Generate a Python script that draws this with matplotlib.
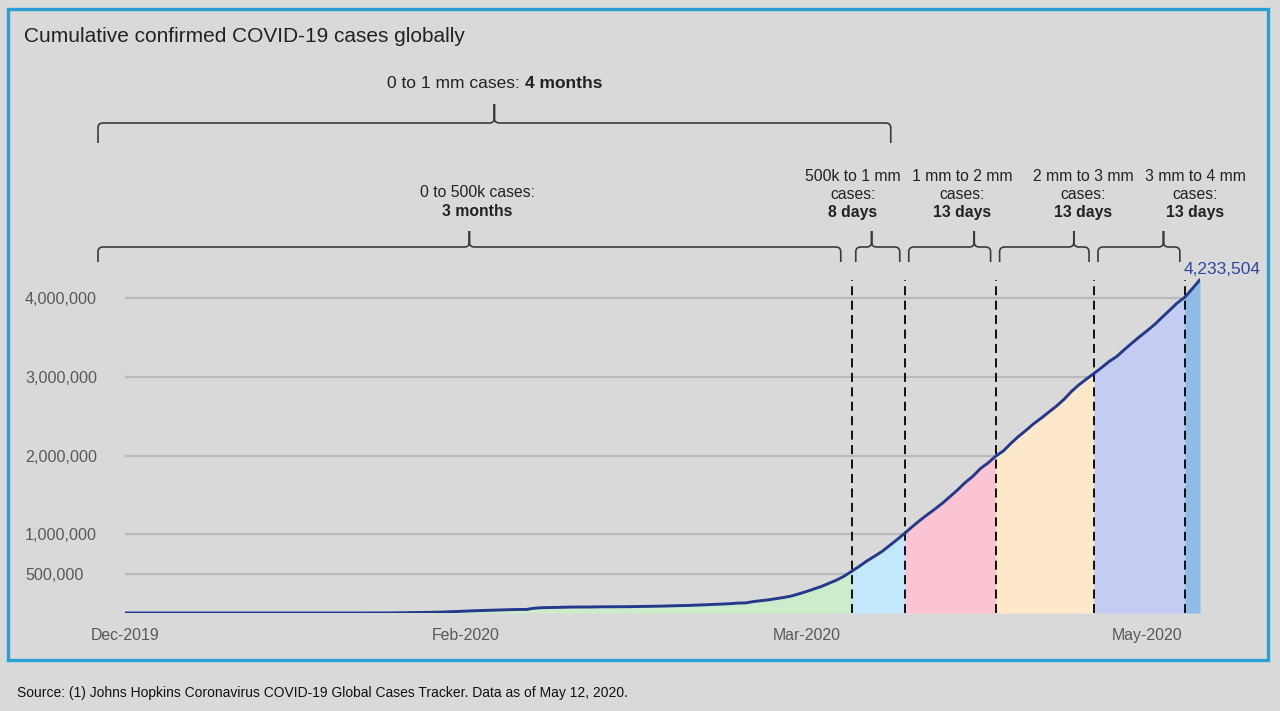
import numpy as np
import pandas as pd
import matplotlib
matplotlib.use('Agg')
import matplotlib.pyplot as plt
import matplotlib.dates as mdates
from matplotlib.path import Path
from matplotlib.patches import PathPatch, Rectangle
from matplotlib.transforms import IdentityTransform
from matplotlib.ticker import FuncFormatter

plt.rcParams['font.family'] = ['Liberation Sans', 'DejaVu Sans']

# cumulative confirmed cases, thousands, one value per day from Jan 21 to May 11
axis_start = '2019-12-21'
daily_start = '2020-01-21'
cases_jan = [0, 0.6, 0.7, 0.9, 1.4, 2.1, 2.9, 5.6, 6.2, 8.2, 9.9]
cases_feb = [12, 17, 20, 24, 28, 31, 34, 37, 40, 43, 45, 45, 60, 67, 69, 71, 73, 75,
             76, 76, 77, 79, 79, 80, 80, 81, 83, 84, 86]
cases_mar = [88, 90, 93, 95, 98, 102, 106, 110, 114, 119, 126, 128, 145, 156, 167, 182,
             197, 215, 243, 272, 305, 337, 378, 418, 468, 530, 593, 661, 720, 782, 857]
cases_apr = [933, 1013, 1096, 1176, 1250, 1321, 1396, 1480, 1565, 1658, 1736, 1835, 1905,
             1990, 2056, 2152, 2240, 2318, 2401, 2472, 2549, 2624, 2709, 2811, 2897, 2971,
             3042, 3116, 3194, 3257]
cases_may = [3344, 3427, 3507, 3583, 3663, 3755, 3846, 3938, 4010, 4120, 4233.504]

# dates where 500k, 1mm, 2mm, 3mm, 4mm were reached
milestones = ['2020-03-26', '2020-04-02', '2020-04-14', '2020-04-27', '2020-05-09']
seg_colors = ['#cdeccb', '#c4e8fb', '#fbc4d2', '#fde9c9', '#c5ccf3', '#8fbbe7']

y_ticks = [500000, 1000000, 2000000, 3000000, 4000000]
tick_step_days = 45

period_top = ('0 to 1 mm cases:', '4 months')
period_labels = [(['0 to 500k cases:'], '3 months'),
                 (['500k to 1 mm', 'cases:'], '8 days'),
                 (['1 mm to 2 mm', 'cases:'], '13 days'),
                 (['2 mm to 3 mm', 'cases:'], '13 days'),
                 (['3 mm to 4 mm', 'cases:'], '13 days')]

title = 'Cumulative confirmed COVID-19 cases globally'
source = 'Source: (1) Johns Hopkins Coronavirus COVID-19 Global Cases Tracker. Data as of May 12, 2020.'

# ---------------------------------------------------------------
cases_k = cases_jan + cases_feb + cases_mar + cases_apr + cases_may
dates = pd.DatetimeIndex([axis_start]).append(pd.date_range(daily_start, periods=len(cases_k)))
cases = np.array([0] + cases_k, dtype=float) * 1000
ms = pd.to_datetime(milestones)

bg = '#d9d9d9'
ink = '#222222'
W, H = 1280, 711
fig = plt.figure(figsize=(W / 100, H / 100), dpi=100, facecolor=bg)

ymax = 4.6e6
y0_px, top_px = 613, 613 - 4.6 * 78.75
ax = fig.add_axes([125 / W, (H - y0_px) / H, (1200 - 125) / W, (y0_px - top_px) / H])
ax.set_facecolor(bg)
ax.set_xlim(dates[0], dates[-1])
ax.set_ylim(0, ymax)

bounds = [dates[0]] + list(ms) + [dates[-1]]
for i in range(len(bounds) - 1):
    m = (dates >= bounds[i]) & (dates <= bounds[i + 1])
    ax.fill_between(dates[m], 0, cases[m], color=seg_colors[i], lw=0, zorder=1)

ax.vlines(ms, 0, cases.max(), colors='black', linestyles=(0, (5, 3)), lw=1.3, zorder=2)
ax.plot(dates, cases, color='#24398c', lw=2.1, zorder=3, solid_capstyle='round')

ax.annotate(f'{int(round(cases[-1])):,}', (dates[-1], cases[-1]), xytext=(-16, 10),
            textcoords='offset pixels', ha='left', va='center', fontsize=12.5, color='#2e48a0')

for s in ax.spines.values():
    s.set_visible(False)
ax.set_yticks(y_ticks)
ax.yaxis.set_major_formatter(FuncFormatter(lambda v, p: f'{int(v):,}'))
ax.tick_params(axis='y', length=0, pad=72, labelsize=11.6, labelcolor='#595959')
for t in ax.get_yticklabels():
    t.set_ha('left')
xt = pd.date_range(dates[0], dates[-1], freq=f'{tick_step_days}D')
ax.set_xticks(xt)
ax.xaxis.set_major_formatter(mdates.DateFormatter('%b-%Y'))
ax.tick_params(axis='x', length=0, pad=11, labelsize=11.4, labelcolor='#595959')
ax.grid(axis='y', color='#bababa', lw=1.6)
ax.set_axisbelow(True)


def xpx(d):
    return ax.transData.transform((mdates.date2num(d), 0))[0]


def brace(x0, x1, xt, y, drop, rise, r=5):
    def P(x, yy):
        return (x, H - yy)
    verts = [P(x0, y + drop), P(x0, y + r), P(x0, y), P(x0 + r, y), P(xt - r, y),
             P(xt, y), P(xt, y - r), P(xt, y - rise),
             P(x1, y + drop), P(x1, y + r), P(x1, y), P(x1 - r, y), P(xt + r, y),
             P(xt, y), P(xt, y - r), P(xt, y - rise)]
    c = [Path.MOVETO, Path.LINETO, Path.CURVE3, Path.CURVE3, Path.LINETO,
         Path.CURVE3, Path.CURVE3, Path.LINETO]
    fig.add_artist(PathPatch(Path(verts, c + c), transform=IdentityTransform(),
                             fill=False, ec='#3a3a3a', lw=1.2))


def ftext(x, y, s, **kw):
    fig.text(x / W, 1 - y / H, s, **kw)


# top bracket: 0 to 1 mm
bx0 = xpx(dates[0]) - 27
bx1 = xpx(ms[1]) - 14
brace(bx0, bx1, bx0 + 0.5 * (bx1 - bx0), 123, 20, 19)
ftext(520, 84, period_top[0], ha='right', va='center', fontsize=12.5, color=ink)
ftext(525, 84, period_top[1], ha='left', va='center', fontsize=12.5, color=ink,
      fontweight='bold')

# second row of brackets
starts = [xpx(dates[0]) - 27] + [xpx(d) + 4 for d in ms[:4]]
ends = [xpx(ms[0]) - 11] + [xpx(d) - 5 for d in ms[1:5]]
tips = [0.5, 0.36, 0.8, 0.83, 0.8]
text_x = [477, 853, 962, 1083, 1195]
for i in range(5):
    brace(starts[i], ends[i], starts[i] + tips[i] * (ends[i] - starts[i]), 247, 15, 16)
    lines, bold = period_labels[i]
    yb = 213 if len(lines) > 1 else 211
    for k, line in enumerate(reversed(lines)):
        ftext(text_x[i], yb - 18.3 * (k + 1), line, ha='center', va='center',
              fontsize=11.3, color=ink)
    ftext(text_x[i], yb, bold, ha='center', va='center', fontsize=11.3,
          color=ink, fontweight='bold')

ftext(24, 36, title, ha='left', va='center', fontsize=15, color=ink)
ftext(17, 693, source, ha='left', va='center', fontsize=10, color='#111111')

fig.add_artist(Rectangle((8, H - 660), 1260, 651, transform=IdentityTransform(),
                         fill=False, ec='#2a9fd6', lw=2.4))

fig.savefig('out.png', dpi=100, facecolor=bg)
